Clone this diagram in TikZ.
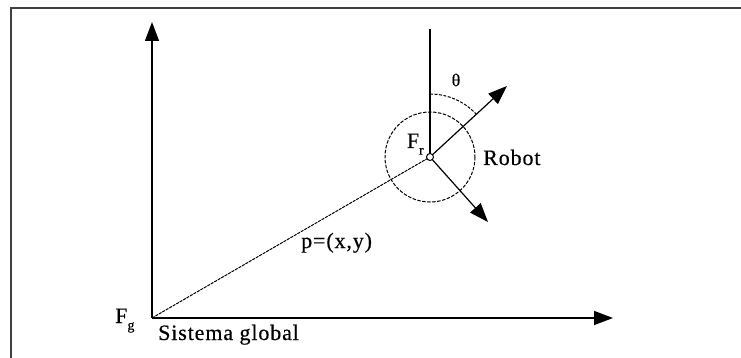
\documentclass[tikz,border=0pt]{standalone}
\usepackage{fontspec}
\setmainfont[LetterSpace=4,FakeBold=0.4]{Liberation Serif}
\usetikzlibrary{arrows.meta}
\begin{document}
\begin{tikzpicture}[x=1pt,y=-1pt,
  font=\fontsize{22}{26}\selectfont,
  axisline/.style={line width=1.4pt,-{Triangle[length=19pt,width=14pt]}},
  robarrow/.style={line width=1.2pt,-{Triangle[length=19pt,width=14pt]}},
  lbl/.style={inner sep=0pt},
  framelines/.style={draw=black!75,line width=2pt}]
\useasboundingbox (0,0) rectangle (741,358);
\draw[framelines] (11,358) -- (11,8) -- (741,8);
\coordinate (O) at (152,318);
\coordinate (ytip) at (152,22);
\coordinate (xtip) at (613,318);
\coordinate (R) at (430,157);
\coordinate (vtop) at (430,29);
\coordinate (a1) at (507,86);
\coordinate (a2) at (488,222);
\draw[axisline] (O) -- (ytip);
\draw[axisline] (O) -- (xtip);
\draw[line width=1pt,dash pattern=on 3pt off 1pt] (O) -- (R);
\draw[line width=1pt,dash pattern=on 3.5pt off 1.5pt] (R) circle[radius=45];
\draw[line width=1.2pt] (R) -- (vtop);
\draw[line width=1pt,dash pattern=on 3pt off 1.5pt] ([yshift=63pt]R) arc[start angle=-90,end angle=-43,radius=63];
\draw[robarrow] (R) -- (a1);
\draw[robarrow] (R) -- (a2);
\node[circle,draw,fill=white,inner sep=0pt,minimum size=7pt,line width=1pt] (Fr) at (R) {};
\node[lbl,anchor=base east] (FrL) at (424,148) {F\raisebox{-0.3em}{\fontsize{14}{14}\selectfont r}};
\node[lbl,anchor=base west] (FgL) at (115,323) {F\raisebox{-0.3em}{\fontsize{14}{14}\selectfont g}};
\node[lbl,anchor=base west] (sg) at (158,340) {Sistema global};
\node[lbl,anchor=base west] (rob) at (483,165) {Robot};
\node[lbl] (th) at (456,80) {\fontsize{18}{18}\selectfont θ};
\node[lbl,anchor=base west] (p) at (301,248) {p=(x,y)};
\end{tikzpicture}
\end{document}
